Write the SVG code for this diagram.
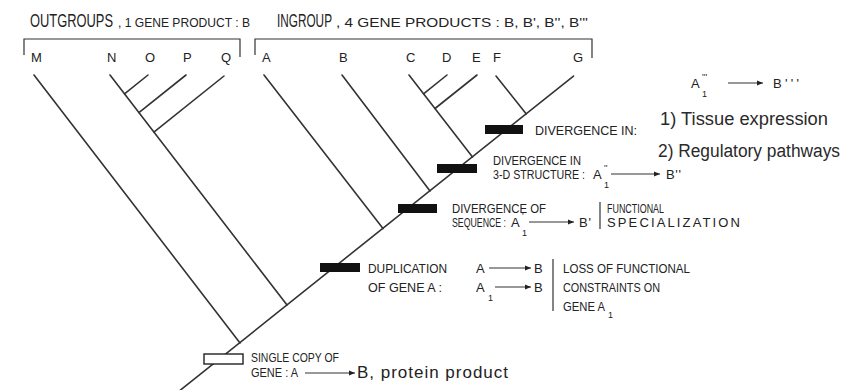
<svg xmlns="http://www.w3.org/2000/svg" width="853" height="390" viewBox="0 0 853 390">
<style>
.t{font-family:"Liberation Sans",Arial,sans-serif;font-size:13px;fill:#222}
.big{font-size:18px}
.hand{font-size:18px;fill:#2a2a2a}
.sub{font-size:9px}
.ln{stroke:#333;stroke-width:1.6;fill:none;stroke-linecap:round}
.thin{stroke:#333;stroke-width:1.2;fill:none}
.bar{fill:#111}
</style>
<defs>
<marker id="ah" markerUnits="userSpaceOnUse" markerWidth="6" markerHeight="6" refX="6" refY="3" orient="auto">
<path d="M0,0.5 L6,3 L0,5.5 z" fill="#222"/>
</marker>
</defs>
<rect width="853" height="390" fill="#fff"/>

<g id="headers">
<text class="t big" x="30" y="27" textLength="83" lengthAdjust="spacingAndGlyphs">OUTGROUPS</text>
<text class="t" x="118" y="27" textLength="132" lengthAdjust="spacingAndGlyphs">, 1 GENE PRODUCT : B</text>
<text class="t big" x="277" y="27" textLength="55" lengthAdjust="spacingAndGlyphs">INGROUP</text>
<text class="t" x="336" y="27" textLength="252" lengthAdjust="spacingAndGlyphs">, 4 GENE PRODUCTS : B, B', B'', B'''</text>
<path class="thin" d="M24,55 V39 H240 V57"/>
<path class="thin" d="M255,55 V39 H592 V58"/>
</g>

<g id="leaves">
<text class="t" x="31" y="62">M</text>
<text class="t" x="107" y="62">N</text>
<text class="t" x="145" y="62">O</text>
<text class="t" x="183" y="62">P</text>
<text class="t" x="221" y="62">Q</text>
<text class="t" x="262" y="62">A</text>
<text class="t" x="339" y="62">B</text>
<text class="t" x="406" y="62">C</text>
<text class="t" x="442" y="62">D</text>
<text class="t" x="472" y="62">E</text>
<text class="t" x="493" y="62">F</text>
<text class="t" x="573" y="62">G</text>
</g>

<g id="connectors">
<line class="ln" x1="178" y1="392" x2="573.5" y2="76"/>
<line class="ln" x1="34" y1="75" x2="240" y2="343"/>
<line class="ln" x1="110" y1="75" x2="287" y2="305"/>
<line class="ln" x1="148" y1="75" x2="124.5" y2="93.8"/>
<line class="ln" x1="186" y1="75" x2="138.9" y2="112.6"/>
<line class="ln" x1="224" y1="76" x2="153.9" y2="132.1"/>
<line class="ln" x1="264" y1="75" x2="383" y2="228.6"/>
<line class="ln" x1="342" y1="75" x2="430" y2="191"/>
<line class="ln" x1="409" y1="75" x2="472.5" y2="157"/>
<line class="ln" x1="447" y1="75" x2="423.5" y2="93.8"/>
<line class="ln" x1="477" y1="75" x2="435" y2="108.5"/>
<line class="ln" x1="496" y1="76" x2="526.3" y2="113.9"/>
</g>

<g id="bars">
<rect class="bar" x="485" y="125" width="38" height="9"/>
<rect class="bar" x="437" y="164" width="40" height="9"/>
<rect class="bar" x="398" y="204" width="39" height="9"/>
<rect class="bar" x="320" y="263" width="40" height="9"/>
<rect x="204" y="354" width="39" height="10" fill="#fff" stroke="#222" stroke-width="1.4"/>
</g>

<g id="label-tissue">
<text class="t" x="691" y="88">A</text>
<text class="t sub" x="702" y="80">'''</text>
<text class="t sub" x="702" y="97">1</text>
<line class="thin" x1="728" y1="83" x2="763" y2="83" marker-end="url(#ah)"/>
<text class="t" x="773" y="88" textLength="26" lengthAdjust="spacing">B'''</text>
<text class="t hand" x="660" y="125" textLength="168" lengthAdjust="spacingAndGlyphs">1) Tissue expression</text>
<text class="t hand" x="658" y="157" textLength="182" lengthAdjust="spacingAndGlyphs">2) Regulatory pathways</text>
<text class="t" x="535" y="135" textLength="102" lengthAdjust="spacingAndGlyphs">DIVERGENCE IN:</text>
</g>

<g id="label-structure">
<text class="t" x="493" y="165" textLength="88" lengthAdjust="spacingAndGlyphs">DIVERGENCE IN</text>
<text class="t" x="493" y="179" textLength="92" lengthAdjust="spacingAndGlyphs">3-D STRUCTURE :</text>
<text class="t" x="593" y="179">A</text>
<text class="t sub" x="604" y="171">''</text>
<text class="t sub" x="604" y="188">1</text>
<line class="thin" x1="611" y1="174" x2="660" y2="174" marker-end="url(#ah)"/>
<text class="t" x="666" y="179" textLength="15" lengthAdjust="spacing">B''</text>
</g>

<g id="label-sequence">
<text class="t" x="452" y="213" textLength="94" lengthAdjust="spacingAndGlyphs">DIVERGENCE OF</text>
<text class="t" x="452" y="227" textLength="54" lengthAdjust="spacingAndGlyphs">SEQUENCE :</text>
<text class="t" x="511" y="227">A</text>
<text class="t sub" x="522" y="219">'</text>
<text class="t sub" x="522" y="236">1</text>
<line class="thin" x1="529" y1="222" x2="574" y2="222" marker-end="url(#ah)"/>
<text class="t" x="579" y="227" textLength="12" lengthAdjust="spacing">B'</text>
<line class="thin" x1="600" y1="202" x2="600" y2="229"/>
<text class="t" x="607" y="213" textLength="57" lengthAdjust="spacingAndGlyphs">FUNCTIONAL</text>
<text class="t" x="607" y="227" textLength="133" lengthAdjust="spacing">SPECIALIZATION</text>
</g>

<g id="label-duplication">
<text class="t" x="368" y="273" textLength="79" lengthAdjust="spacingAndGlyphs">DUPLICATION</text>
<text class="t" x="368" y="292" textLength="74" lengthAdjust="spacingAndGlyphs">OF GENE A :</text>
<text class="t" x="476" y="273">A</text>
<line class="thin" x1="489" y1="268" x2="531" y2="268" marker-end="url(#ah)"/>
<text class="t" x="534" y="273">B</text>
<text class="t" x="476" y="292">A</text>
<text class="t sub" x="488" y="301">1</text>
<line class="thin" x1="495" y1="287" x2="531" y2="287" marker-end="url(#ah)"/>
<text class="t" x="534" y="292">B</text>
<line class="thin" x1="553" y1="259" x2="553" y2="311"/>
<text class="t" x="563" y="273" textLength="127" lengthAdjust="spacingAndGlyphs">LOSS OF FUNCTIONAL</text>
<text class="t" x="563" y="292" textLength="97" lengthAdjust="spacingAndGlyphs">CONSTRAINTS ON</text>
<text class="t" x="563" y="311" textLength="42" lengthAdjust="spacingAndGlyphs">GENE A</text>
<text class="t sub" x="608" y="318">1</text>
</g>

<g id="label-single">
<text class="t" x="251" y="362" textLength="88" lengthAdjust="spacingAndGlyphs">SINGLE COPY OF</text>
<text class="t" x="251" y="377" textLength="47" lengthAdjust="spacingAndGlyphs">GENE : A</text>
<line class="thin" x1="305" y1="373" x2="355" y2="373" marker-end="url(#ah)"/>
<text class="t" x="357" y="378" style="font-size:17px" textLength="151" lengthAdjust="spacing">B, protein product</text>
</g>
</svg>
